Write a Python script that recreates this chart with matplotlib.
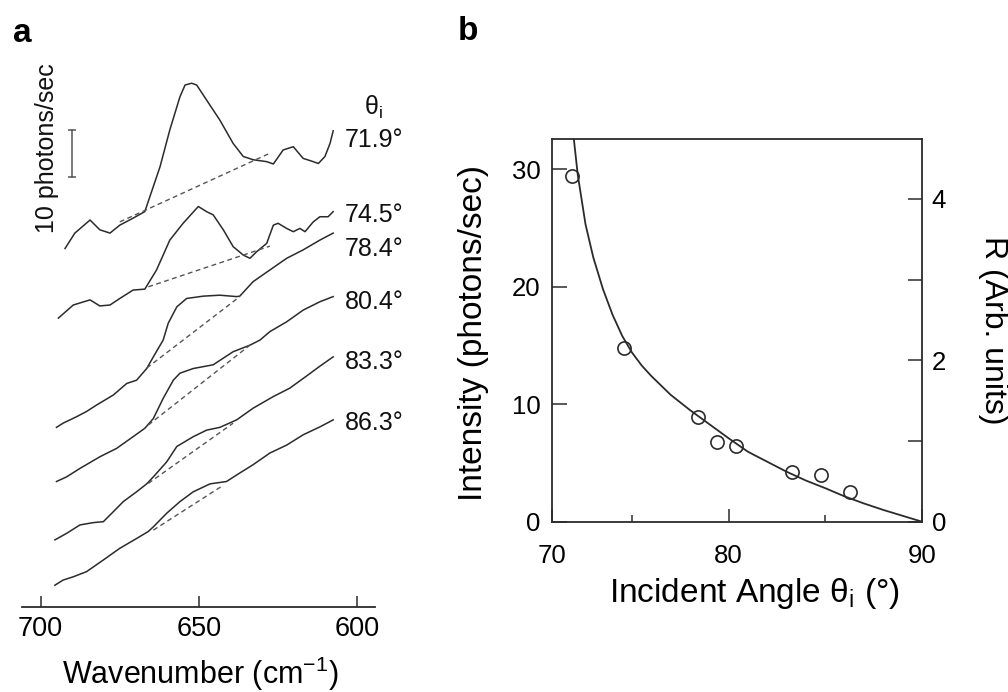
import matplotlib
matplotlib.use("Agg")
import matplotlib.pyplot as plt

plt.rcParams["font.family"] = ["Liberation Sans", "DejaVu Sans"]
plt.rcParams["mathtext.default"] = "regular"

INK = "#2b2b2b"

# ---- panel a: spectra, photons/sec relative to the left end of each trace
angle_labels = ["71.9°", "74.5°", "78.4°", "80.4°", "83.3°", "86.3°"]
offsets = [76.7, 61.8, 38.4, 26.8, 14.3, 4.6]

wn_719 = [692.3, 689.2, 684.4, 681.3, 678.1, 675.0, 670.8, 667.1, 665.5, 662.3, 659.2, 656.0, 654.4, 652.3, 650.7,
          647.6, 643.4, 639.2, 636.0, 632.8, 628.6, 626.5, 623.4, 620.2, 617.1, 613.9, 612.3, 610.2, 608.6, 607.6]
int_719 = [0.0, 3.3, 6.1, 4.0, 3.3, 5.0, 6.5, 7.9, 11.1, 17.5, 25.4, 32.5, 35.0, 35.4, 35.0,
           31.8, 27.5, 22.5, 19.7, 19.0, 18.6, 18.1, 21.1, 21.8, 19.3, 18.6, 18.2, 19.7, 22.5, 25.2]

wn_745 = [694.4, 689.7, 684.4, 681.3, 678.1, 675.0, 670.8, 667.1, 663.4, 659.2, 655.0, 650.2, 647.6, 645.5, 642.3,
          639.2, 636.0, 633.9, 631.8, 628.6, 626.5, 625.0, 622.3, 620.2, 618.1, 616.5, 613.9, 611.8, 609.2, 607.6]
int_745 = [0.0, 2.8, 3.9, 2.6, 2.8, 4.2, 6.0, 6.2, 10.3, 16.7, 20.3, 23.9, 22.8, 22.1, 18.9,
           15.3, 13.5, 12.8, 14.2, 16.0, 19.9, 20.3, 19.2, 18.5, 19.2, 18.5, 20.6, 21.7, 21.7, 22.8]

wn_784 = [695.0, 692.9, 688.6, 685.5, 682.3, 677.1, 672.8, 669.7, 666.5, 664.4, 661.3, 659.7, 657.0, 653.9, 648.6,
          643.4, 638.1, 637.1, 632.9, 627.6, 622.3, 617.1, 611.8, 607.6]
int_784 = [0.0, 0.9, 2.3, 3.4, 4.8, 6.9, 9.4, 10.1, 12.6, 15.1, 18.7, 22.3, 25.8, 27.6, 28.1,
           28.3, 28.0, 28.1, 31.2, 33.7, 36.2, 38.0, 40.1, 41.6]

wn_804 = [695.0, 691.8, 687.6, 681.3, 676.0, 670.8, 667.1, 664.4, 661.3, 658.1, 656.0, 651.8, 645.5, 639.2, 633.9,
          630.7, 627.6, 622.3, 617.1, 611.8, 607.6]
int_804 = [0.0, 1.0, 2.8, 5.3, 7.1, 9.6, 11.4, 13.5, 17.8, 21.7, 23.2, 24.2, 25.0, 27.8, 29.2,
           30.3, 32.1, 34.2, 36.7, 38.5, 39.6]

wn_833 = [695.5, 691.8, 687.6, 683.4, 680.2, 677.1, 673.9, 669.7, 666.5, 664.4, 660.2, 657.0, 651.8, 647.6, 643.4,
          638.1, 632.9, 626.5, 621.3, 616.0, 611.8, 607.6]
int_833 = [0.0, 1.4, 3.2, 3.7, 3.9, 6.0, 8.2, 10.3, 12.0, 13.5, 16.7, 20.0, 22.1, 23.5, 24.1,
           25.7, 28.2, 30.7, 32.5, 35.1, 37.2, 39.2]

wn_863 = [695.5, 692.9, 689.7, 685.5, 680.2, 675.0, 669.7, 666.0, 664.4, 660.2, 656.0, 651.8, 646.5, 641.3, 638.1,
          632.9, 627.6, 622.3, 617.1, 611.8, 607.6]
int_863 = [0.0, 1.1, 1.8, 2.9, 5.4, 7.9, 10.0, 11.5, 12.5, 15.4, 17.9, 20.0, 21.7, 22.2, 23.6,
           25.8, 28.3, 30.0, 32.2, 33.9, 35.4]

# dashed baselines under the peaks (start, end)
base_wn = [(675.0, 627.6), (666.0, 627.6), (666.5, 637.1), (666.0, 633.9), (666.0, 639.2), (664.4, 642.3)]
base_int = [(5.7, 20.4), (6.7, 15.4), (12.7, 28.0), (12.1, 29.2), (12.1, 25.0), (11.8, 21.4)]

# ---- panel b: peak intensity vs incident angle
theta_meas = [71.9, 74.6, 78.4, 79.4, 80.4, 83.3, 84.8, 86.3]
intensity_meas = [29.4, 14.8, 8.9, 6.8, 6.4, 4.2, 4.0, 2.5]
theta_fit = [72.0, 72.2, 72.6, 73.0, 73.5, 74.0, 74.5, 75.0, 75.5, 76.0, 77.0, 78.0, 79.0, 80.0,
             81.0, 82.0, 83.0, 84.0, 85.0, 86.0, 87.0, 88.0, 89.0, 90.0]
intensity_fit = [32.5, 29.5, 25.3, 22.5, 19.8, 17.6, 15.8, 14.4, 13.3, 12.4, 10.8, 9.5, 8.3, 7.1,
                 5.95, 5.1, 4.25, 3.5, 2.85, 2.15, 1.55, 1.0, 0.5, 0.0]

traces = [(wn_719, int_719), (wn_745, int_745), (wn_784, int_784),
          (wn_804, int_804), (wn_833, int_833), (wn_863, int_863)]
label_y = [99.9, 83.9, 76.7, 65.3, 52.5, 39.3]

fig = plt.figure(figsize=(10.08, 6.92), dpi=100)

# panel a
axa = fig.add_axes([0.0218, 0.1233, 0.3502, 0.8189])
for (wn, inten), off in zip(traces, offsets):
    axa.plot(wn, [v + off for v in inten], color=INK, lw=1.1)
for bw, bi, off in zip(base_wn, base_int, offsets):
    axa.plot(bw, [v + off for v in bi], color="#555555", lw=1.0, ls=(0, (3.5, 2.5)))
for lab, y in zip(angle_labels, label_y):
    axa.text(603.9, y, lab, fontsize=18, va="center", ha="left", color="#111111")
axa.text(595.0, 107.0, r"θ$_{i}$", fontsize=18, va="center", ha="center", color="#111111")

# 10 photons/sec scale bar
axa.plot([690.2, 690.2], [92.1, 102.1], color="#555555", lw=1.1)
axa.plot([690.2, 690.2], [92.1, 102.1], color="#555555", lw=0, marker="_", ms=6, mew=1.1)
fig.text(46.7 / 1008, 1 - 148 / 692, "10 photons/sec", rotation=90, fontsize=18,
         ha="center", va="center", color="#111111")

axa.set_xlim(705.9, 594.4)
axa.set_ylim(0, 121.35)
for s in ["left", "right", "top"]:
    axa.spines[s].set_visible(False)
axa.spines["bottom"].set_color(INK)
axa.spines["bottom"].set_linewidth(1.3)
axa.set_yticks([])
axa.set_xticks([700, 650, 600])
axa.tick_params(axis="x", direction="in", length=8, width=1.1, color=INK, labelsize=19.5, pad=7)
fig.text(200 / 1008, 1 - 684 / 692, "Wavenumber (cm$^{-1}$)", fontsize=22, ha="center", va="baseline")

# panel b
axb = fig.add_axes([0.5473, 0.2461, 0.3674, 0.5526])
axb.plot(theta_fit, intensity_fit, color=INK, lw=1.3)
axb.plot(theta_meas, intensity_meas, ls="none", marker="o", ms=9.5, mfc="none", mec=INK, mew=1.2)
axb.set_xlim(70.85, 90)
axb.set_ylim(0, 32.54)
axb.set_xticks([70.85, 80, 90], labels=["70", "80", "90"])
axb.set_xticks([75, 85], minor=True)
axb.set_yticks([0, 10, 20, 30])
axb.tick_params(axis="x", which="major", direction="in", length=9.5, width=1.1, color=INK, labelsize=18.5, pad=16)
axb.tick_params(axis="x", which="minor", direction="in", length=5, width=1.1, color=INK)
axb.tick_params(axis="y", direction="in", length=11, width=1.1, color=INK, labelsize=18.5, pad=8)
for s in axb.spines.values():
    s.set_color(INK)
    s.set_linewidth(1.3)
axb.set_xlabel(r"Incident Angle θ$_{i}$ (°)", fontsize=24)
axb.xaxis.set_label_coords(0.548, -0.1865)
axb.xaxis.label.set_va("center")
axb.set_ylabel("Intensity (photons/sec)", fontsize=24)
axb.yaxis.set_label_coords(-0.2098, 0.4935)
axb.yaxis.label.set_va("center")

axr = axb.twinx()
axr.set_ylim(0, 4.74)
axr.set_yticks([0, 1, 2, 3, 4], labels=["0", "", "2", "", "4"])
axr.tick_params(axis="y", direction="in", length=10, width=1.1, color=INK, labelsize=18.5, pad=7)
for s in axr.spines.values():
    s.set_visible(False)
axr.set_ylabel("R (Arb. units)", fontsize=23, rotation=270)
axr.yaxis.set_label_coords(1.1907, 0.5)
axr.yaxis.label.set_va("center")

fig.text(22 / 1008, 1 - 33 / 692, "a", fontsize=24, weight="bold", ha="center", va="center")
fig.text(468 / 1008, 1 - 32 / 692, "b", fontsize=24, weight="bold", ha="center", va="center")

fig.savefig("out.png", dpi=100, facecolor="white")
